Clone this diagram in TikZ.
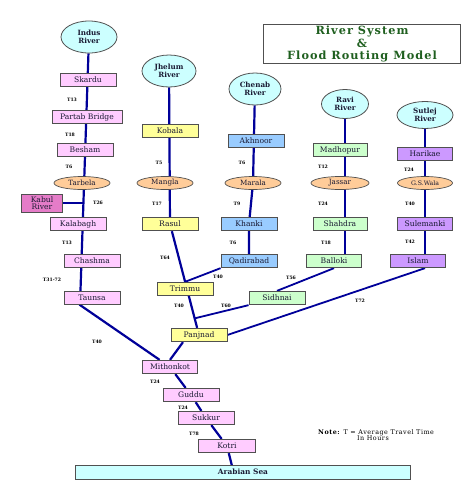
\documentclass[tikz,border=0pt]{standalone}
\usepackage{fontspec}
\setmainfont{DejaVu Serif}
\usetikzlibrary{shapes.geometric,backgrounds,calc}
\definecolor{pinkc}{HTML}{FFCCFF}
\definecolor{kabulc}{HTML}{E57CC8}
\definecolor{rivc}{HTML}{CCFFFF}
\definecolor{damc}{HTML}{FFCC99}
\definecolor{yelc}{HTML}{FFFF99}
\definecolor{bluec}{HTML}{99CCFF}
\definecolor{greenc}{HTML}{CCFFCC}
\definecolor{purc}{HTML}{CC99FF}
\definecolor{flowc}{HTML}{000099}
\definecolor{edgec}{HTML}{505050}
\definecolor{txtc}{HTML}{1A1A33}
\definecolor{titlec}{HTML}{1F5F1F}
\begin{document}
\begin{tikzpicture}[x=1pt,y=-1pt,
  box/.style={draw=edgec, line width=0.8pt, minimum width=56pt, minimum height=13.5pt, inner sep=0pt, text=txtc, font=\fontsize{7.6}{8.5}\selectfont},
  riv/.style={ellipse, draw=edgec, fill=rivc, line width=0.8pt, inner sep=0pt, align=center, text=txtc, minimum width=56pt, minimum height=32pt, font=\bfseries\fontsize{7.2}{8.6}\selectfont},
  dam/.style={ellipse, draw=edgec, fill=damc, line width=0.7pt, inner sep=0pt, minimum width=56pt, minimum height=13pt, text=txtc, font=\fontsize{7.2}{8}\selectfont},
  tl/.style={inner sep=0pt, text=black, font=\bfseries\fontsize{4.6}{5}\selectfont},
  flow/.style={draw=flowc, line width=2.2pt}]
\useasboundingbox (0,0) rectangle (474,483);
% title
\node[draw=edgec, line width=0.9pt, minimum width=197pt, minimum height=39pt, inner sep=0pt, align=center, text=titlec, font=\bfseries\fontsize{11.3}{12.8}\selectfont\addfontfeature{LetterSpace=9}] (title) at (362,44) {River System\\\&\\Flood Routing Model};
% Indus
\node[riv] (indus) at (89,37) {Indus\\River};
\node[box, fill=pinkc] (skardu) at (88,80) {Skardu};
\node[box, fill=pinkc, minimum width=70pt] (partab) at (87,117) {Partab Bridge};
\node[box, fill=pinkc] (besham) at (85,150) {Besham};
\node[dam] (tarbela) at (82,183) {Tarbela};
\node[box, fill=kabulc, minimum width=41pt, minimum height=18pt, align=center, font=\fontsize{7.6}{7.6}\selectfont] (kabul) at (42,203) {Kabul\\River};
\node[box, fill=pinkc] (kalabagh) at (78,224) {Kalabagh};
\node[box, fill=pinkc] (chashma) at (92,261) {Chashma};
\node[box, fill=pinkc] (taunsa) at (92,298) {Taunsa};
\coordinate (ibase) at (80,305);
\coordinate (kj) at (83,203);
% Jhelum
\node[riv, minimum width=54pt] (jhelum) at (169,71) {Jhelum\\River};
\node[box, fill=yelc] (kobala) at (170,131) {Kobala};
\node[dam] (mangla) at (165,183) {Mangla};
\node[box, fill=yelc] (rasul) at (170,224) {Rasul};
% Chenab
\node[riv, minimum width=52pt] (chenab) at (255,89) {Chenab\\River};
\node[box, fill=bluec] (akhnoor) at (256,141) {Akhnoor};
\node[dam] (marala) at (253,183) {Marala};
\node[box, fill=bluec] (khanki) at (249,224) {Khanki};
\node[box, fill=bluec] (qadirabad) at (249,261) {Qadirabad};
\node[box, fill=yelc] (trimmu) at (185,289) {Trimmu};
\node[box, fill=greenc] (sidhnai) at (277,298) {Sidhnai};
\node[box, fill=yelc] (panjnad) at (199,335) {Panjnad};
% Ravi
\node[riv, minimum width=47pt, minimum height=29pt] (ravi) at (345,104) {Ravi\\River};
\node[box, fill=greenc, minimum width=54pt] (madhopur) at (340,150) {Madhopur};
\node[dam, minimum width=58pt] (jassar) at (340,183) {Jassar};
\node[box, fill=greenc, minimum width=54pt] (shahdra) at (340,224) {Shahdra};
\node[box, fill=greenc, minimum width=55pt] (balloki) at (334,261) {Balloki};
% Sutlej
\node[riv, minimum height=27pt] (sutlej) at (425,115) {Sutlej\\River};
\node[box, fill=purc, minimum width=55pt] (harikae) at (425,154) {Harikae};
\node[dam, minimum width=55pt, font=\fontsize{6.2}{6.5}\selectfont] (gswala) at (425,183) {G.S.Wala};
\node[box, fill=purc, minimum width=55pt] (sulemanki) at (425,224) {Sulemanki};
\node[box, fill=purc, minimum width=55pt] (islam) at (418,261) {Islam};
% lower Indus
\node[box, fill=pinkc, minimum width=55pt] (mithonkot) at (170,367) {Mithonkot};
\node[box, fill=pinkc] (guddu) at (191,395) {Guddu};
\node[box, fill=pinkc] (sukkur) at (206,418) {Sukkur};
\node[box, fill=pinkc, minimum width=57pt] (kotri) at (227,446) {Kotri};
\node[box, fill=rivc, minimum width=335pt, minimum height=14pt, font=\bfseries\fontsize{7.4}{8}\selectfont] (sea) at (243,472) {Arabian Sea};
\coordinate (seain) at (232,466);
% note
\node[inner sep=0pt, align=left, anchor=west, font=\fontsize{6.4}{6.4}\selectfont\addfontfeature{LetterSpace=8}] (note) at (318,435) {\textbf{Note:} T = Average Travel Time\\\hspace*{39pt}In Hours};
% connectors
\begin{pgfonlayer}{background}
\draw[flow] (indus) -- (ibase) -- (mithonkot);
\draw[flow] (kabul.east) -- (kj);
\draw[flow] (jhelum) -- (rasul) -- (panjnad);
\draw[flow] (chenab) -- (marala) -- (khanki) -- (qadirabad);
\draw[flow, line width=1.8pt] (qadirabad.south west) -- (trimmu.north);
\draw[flow] (ravi) -- (ravi |- balloki);
\draw[flow, line width=1.8pt] (balloki.south) -- (sidhnai.north);
\draw[flow, line width=1.8pt] (sidhnai.south west) -- ($(rasul)!0.85!(panjnad)$);
\draw[flow] (sutlej) -- (sutlej |- islam);
\draw[flow, line width=1.8pt] (sutlej |- islam.south) -- (panjnad.east);
\draw[flow] ($(panjnad.south)+(-16,0)$) -- (mithonkot.north);
\draw[flow] (mithonkot) -- (guddu) -- (sukkur) -- (kotri) -- (seain);
\end{pgfonlayer}
% travel times
\node[tl] (t1) at (72,100) {T13};
\node[tl] (t2) at (70,135) {T18};
\node[tl] (t3) at (69,167) {T6};
\node[tl] (t4) at (98,203) {T26};
\node[tl] (t5) at (67,243) {T13};
\node[tl] (t6) at (52,280) {T31-72};
\node[tl] (t7) at (97,342) {T40};
\node[tl] (t8) at (155,382) {T24};
\node[tl] (t9) at (183,408) {T24};
\node[tl] (t10) at (194,434) {T78};
\node[tl] (t11) at (159,163) {T5};
\node[tl] (t12) at (157,204) {T17};
\node[tl] (t13) at (165,258) {T64};
\node[tl] (t14) at (242,163) {T6};
\node[tl] (t15) at (237,204) {T9};
\node[tl] (t16) at (233,243) {T6};
\node[tl] (t17) at (218,277) {T40};
\node[tl] (t18) at (179,306) {T40};
\node[tl] (t19) at (226,306) {T60};
\node[tl] (t20) at (291,278) {T56};
\node[tl] (t21) at (323,167) {T12};
\node[tl] (t22) at (323,204) {T24};
\node[tl] (t23) at (326,243) {T18};
\node[tl] (t24) at (409,170) {T24};
\node[tl] (t25) at (410,204) {T40};
\node[tl] (t26) at (410,242) {T42};
\node[tl] (t27) at (360,301) {T72};
\end{tikzpicture}
\end{document}
